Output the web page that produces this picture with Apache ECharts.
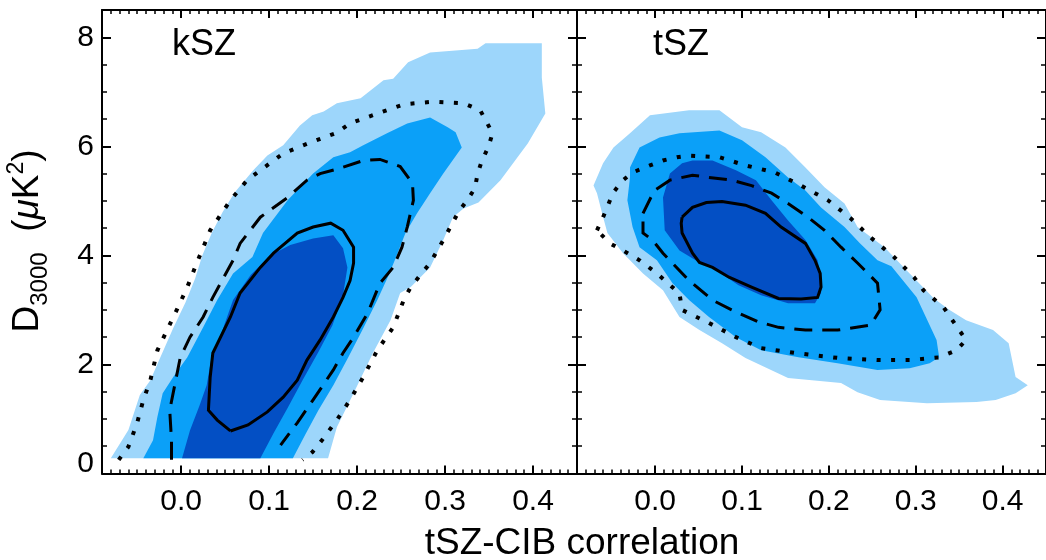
<!DOCTYPE html>
<html>
<head>
<meta charset="utf-8">
<script src="https://cdn.jsdelivr.net/npm/echarts@6/dist/echarts.min.js"></script>
<style>
html,body{margin:0;padding:0;background:#fff;}
#chart{width:1046px;height:560px;}
</style>
</head>
<body>
<div id="chart"></div>
<script>
// ---- axis ticks ----
const xMajorTicks = [0, 0.1, 0.2, 0.3, 0.4];
const xMinorTicks = [];
for (let i = -9; i <= 45; i++) xMinorTicks.push(i / 100);
const yMajorTicks = [0, 2, 4, 6, 8];
const yMinorTicks = [0, 0.5, 1, 1.5, 2, 2.5, 3, 3.5, 4, 4.5, 5, 5.5, 6, 6.5, 7, 7.5, 8, 8.5];
const panelNames = ['kSZ', 'tSZ'];

// ---- kSZ panel contours [tSZ-CIB correlation, D3000] ----
const kszLight = [[-0.080,0.28],[-0.060,0.80],[-0.047,1.44],[-0.035,1.71],[-0.024,2.12],[-0.009,2.67],[0.005,3.14],[0.016,3.58],[0.024,4.00],[0.035,4.42],[0.047,4.79],[0.061,5.16],[0.082,5.56],[0.098,5.83],[0.116,6.02],[0.135,6.38],[0.149,6.57],[0.162,6.64],[0.177,6.79],[0.204,6.88],[0.230,7.21],[0.241,7.24],[0.258,7.54],[0.283,7.72],[0.337,7.79],[0.346,7.89],[0.410,7.89],[0.410,7.26],[0.414,6.60],[0.394,6.05],[0.363,5.38],[0.338,4.97],[0.321,4.86],[0.309,4.70],[0.298,4.28],[0.283,3.78],[0.261,3.42],[0.249,3.31],[0.238,2.81],[0.218,2.21],[0.196,1.47],[0.177,0.85],[0.167,0.28]];
const kszMid = [[-0.043,0.28],[-0.032,0.61],[-0.027,1.04],[-0.021,1.47],[-0.009,1.77],[0.007,2.13],[0.025,2.68],[0.041,3.18],[0.059,3.67],[0.081,3.97],[0.093,4.41],[0.121,5.01],[0.150,5.50],[0.173,5.80],[0.192,5.89],[0.207,6.02],[0.234,6.24],[0.257,6.42],[0.283,6.53],[0.303,6.35],[0.312,6.26],[0.319,5.98],[0.298,5.50],[0.283,5.14],[0.268,4.77],[0.255,4.41],[0.245,4.00],[0.236,3.64],[0.223,3.18],[0.206,2.63],[0.190,2.13],[0.173,1.62],[0.156,1.16],[0.141,0.71],[0.127,0.28]];
const kszDark = [[0.001,0.28],[0.010,0.79],[0.021,1.25],[0.029,1.62],[0.034,2.08],[0.047,2.63],[0.059,3.18],[0.079,3.64],[0.101,4.00],[0.124,4.19],[0.150,4.31],[0.173,4.37],[0.184,4.13],[0.189,3.78],[0.184,3.27],[0.172,2.72],[0.156,2.23],[0.138,1.71],[0.121,1.20],[0.105,0.74],[0.090,0.28]];
const kszSolid = [[0.056,0.78],[0.076,0.89],[0.098,1.13],[0.116,1.40],[0.132,1.71],[0.143,2.08],[0.158,2.45],[0.173,2.87],[0.184,3.23],[0.192,3.54],[0.196,3.86],[0.196,4.15],[0.184,4.46],[0.170,4.59],[0.150,4.52],[0.132,4.41],[0.105,4.04],[0.090,3.78],[0.067,3.31],[0.056,2.87],[0.036,2.21],[0.033,1.77],[0.031,1.16],[0.041,0.98],[0.056,0.78]];
const kszDashed = [[-0.011,0.25],[-0.011,0.61],[-0.013,1.16],[-0.001,2.13],[0.010,2.50],[0.025,2.87],[0.036,3.23],[0.059,3.91],[0.067,4.22],[0.090,4.70],[0.121,5.06],[0.143,5.38],[0.158,5.50],[0.181,5.60],[0.207,5.74],[0.226,5.76],[0.249,5.63],[0.263,5.32],[0.264,5.01],[0.257,4.52],[0.251,4.15],[0.241,3.78],[0.226,3.49],[0.212,2.94],[0.196,2.50],[0.184,2.21],[0.173,1.90],[0.150,1.35],[0.132,0.93],[0.113,0.52]];
const kszDotted = [[-0.071,0.25],[-0.060,0.49],[-0.050,0.93],[-0.043,1.35],[-0.035,1.71],[-0.027,2.26],[-0.016,2.63],[-0.005,3.00],[0.007,3.42],[0.018,3.87],[0.033,4.46],[0.056,5.01],[0.075,5.38],[0.090,5.56],[0.116,5.87],[0.147,6.07],[0.177,6.25],[0.192,6.42],[0.223,6.60],[0.253,6.77],[0.287,6.82],[0.321,6.79],[0.340,6.66],[0.354,6.24],[0.349,5.98],[0.342,5.74],[0.337,5.50],[0.334,5.23],[0.325,5.01],[0.315,4.79],[0.306,4.52],[0.298,4.28],[0.283,3.86],[0.261,3.42],[0.253,3.18],[0.241,2.68],[0.223,2.26],[0.207,1.77],[0.192,1.35],[0.177,0.98],[0.160,0.61],[0.149,0.39],[0.138,0.25]];

// ---- tSZ panel contours ----
const tszLight = [[-0.071,5.28],[-0.060,5.69],[-0.048,5.98],[-0.029,6.24],[-0.006,6.57],[0.039,6.66],[0.074,6.66],[0.100,6.35],[0.122,6.26],[0.150,5.98],[0.173,5.61],[0.195,5.25],[0.218,4.95],[0.233,4.52],[0.264,4.15],[0.293,3.67],[0.321,3.21],[0.339,3.00],[0.358,2.81],[0.389,2.63],[0.407,2.39],[0.415,1.77],[0.429,1.62],[0.415,1.47],[0.392,1.35],[0.370,1.31],[0.313,1.29],[0.259,1.35],[0.233,1.49],[0.214,1.66],[0.153,1.75],[0.104,2.12],[0.077,2.39],[0.051,2.63],[0.028,2.87],[0.009,3.36],[-0.014,3.67],[-0.029,3.91],[-0.037,4.04],[-0.055,4.41],[-0.061,4.77],[-0.067,5.14]];
const tszMid = [[-0.029,5.61],[-0.018,5.98],[0.005,6.16],[0.028,6.24],[0.074,6.29],[0.100,6.11],[0.127,5.80],[0.153,5.43],[0.173,5.19],[0.191,4.88],[0.218,4.52],[0.236,4.22],[0.256,3.91],[0.272,3.80],[0.301,3.23],[0.324,2.45],[0.327,2.13],[0.316,2.02],[0.293,1.93],[0.256,1.90],[0.210,2.02],[0.165,2.13],[0.122,2.26],[0.093,2.50],[0.062,2.87],[0.039,3.18],[0.020,3.49],[0.002,3.91],[-0.018,4.15],[-0.026,4.52],[-0.032,5.01],[-0.029,5.43]];
const tszDark = [[0.009,5.06],[0.017,5.50],[0.031,5.69],[0.043,5.74],[0.066,5.74],[0.093,5.56],[0.116,5.38],[0.134,5.01],[0.153,4.64],[0.173,4.28],[0.187,3.91],[0.191,3.60],[0.191,3.31],[0.184,3.12],[0.153,3.12],[0.122,3.27],[0.096,3.45],[0.070,3.73],[0.051,3.87],[0.028,4.09],[0.011,4.46]];
const tszSolid = [[0.031,4.70],[0.043,4.88],[0.059,4.97],[0.077,4.99],[0.104,4.92],[0.127,4.77],[0.145,4.52],[0.173,4.22],[0.184,3.91],[0.190,3.67],[0.191,3.42],[0.187,3.23],[0.168,3.20],[0.142,3.21],[0.111,3.42],[0.085,3.60],[0.066,3.78],[0.051,3.87],[0.043,4.04],[0.031,4.41],[0.030,4.59],[0.031,4.70]];
const tszDashed = [[-0.014,4.77],[-0.001,5.19],[0.017,5.38],[0.043,5.47],[0.062,5.43],[0.088,5.38],[0.111,5.28],[0.134,5.14],[0.153,4.95],[0.176,4.70],[0.195,4.46],[0.214,4.15],[0.233,3.86],[0.245,3.67],[0.256,3.49],[0.259,3.00],[0.248,2.72],[0.210,2.63],[0.173,2.63],[0.142,2.68],[0.119,2.78],[0.088,3.00],[0.066,3.18],[0.039,3.54],[0.009,4.04],[-0.003,4.28],[-0.014,4.41],[-0.014,4.77]];
const tszDotted = [[-0.067,4.46],[-0.060,4.70],[-0.052,5.01],[-0.048,5.16],[-0.037,5.38],[-0.026,5.52],[-0.006,5.65],[0.009,5.74],[0.025,5.80],[0.039,5.83],[0.074,5.80],[0.104,5.65],[0.138,5.52],[0.168,5.28],[0.199,5.01],[0.225,4.68],[0.248,4.33],[0.275,3.97],[0.298,3.60],[0.309,3.36],[0.332,3.05],[0.350,2.63],[0.358,2.45],[0.347,2.26],[0.327,2.13],[0.293,2.08],[0.256,2.08],[0.210,2.12],[0.161,2.21],[0.122,2.30],[0.093,2.50],[0.062,2.76],[0.031,3.00],[0.028,3.30],[0.002,3.67],[-0.018,3.91],[-0.037,4.09],[-0.052,4.22],[-0.067,4.46]];

const FONT = "'Liberation Sans', Arial, Helvetica, sans-serif";
const C_LIGHT = '#9dd6fb', C_MID = '#0ba0f8', C_DARK = '#034fc4';

const chart = echarts.init(document.getElementById('chart'), null, {renderer: 'canvas'});

const grids = [
  {left: 102, top: 10, width: 475, height: 463.5},
  {left: 577, top: 10, width: 475, height: 463.5}
];

const xAxes = [], yAxes = [];
const lineBlack = {color: '#000', width: 2};
for (let g = 0; g < 2; g++) {
  const xBase = {gridIndex: g, type: 'value', min: -0.09, max: 0.45, splitLine: {show: false}};
  xAxes.push(Object.assign({}, xBase, {position: 'bottom', axisLine: {show: true, onZero: false, lineStyle: lineBlack},
    axisTick: {show: true, inside: true, length: 8, customValues: xMajorTicks, lineStyle: {color: '#000', width: 2}},
    axisLabel: {show: true, customValues: xMajorTicks, formatter: v => v.toFixed(1), fontSize: 30, fontFamily: FONT, color: '#000', margin: 13}}));
  xAxes.push(Object.assign({}, xBase, {position: 'bottom', axisLine: {show: false, onZero: false},
    axisTick: {show: true, inside: true, length: 4, customValues: xMinorTicks, lineStyle: {color: '#000', width: 1.5}},
    axisLabel: {show: false}}));
  xAxes.push(Object.assign({}, xBase, {position: 'top', axisLine: {show: true, onZero: false, lineStyle: lineBlack},
    axisTick: {show: true, inside: true, length: 8, customValues: xMajorTicks, lineStyle: {color: '#000', width: 2}},
    axisLabel: {show: false}}));
  xAxes.push(Object.assign({}, xBase, {position: 'top', axisLine: {show: false, onZero: false},
    axisTick: {show: true, inside: true, length: 4, customValues: xMinorTicks, lineStyle: {color: '#000', width: 1.5}},
    axisLabel: {show: false}}));

  const yBase = {gridIndex: g, type: 'value', min: 0, max: 8.5, splitLine: {show: false}};
  yAxes.push(Object.assign({}, yBase, {position: 'left', axisLine: {show: true, onZero: false, lineStyle: lineBlack},
    axisTick: {show: true, inside: true, length: 9, customValues: yMajorTicks, lineStyle: {color: '#000', width: 2}},
    axisLabel: {show: g === 0, customValues: yMajorTicks, fontSize: 30, fontFamily: FONT, color: '#000', margin: 8,
      formatter: v => (v === 0 ? '{z|0}' : String(v)),
      rich: {z: {fontSize: 30, fontFamily: FONT, color: '#000', padding: [0, 0, 20, 0]}}}}));
  yAxes.push(Object.assign({}, yBase, {position: 'left', axisLine: {show: false, onZero: false},
    axisTick: {show: true, inside: true, length: 5, customValues: yMinorTicks, lineStyle: {color: '#000', width: 1.5}},
    axisLabel: {show: false}}));
  yAxes.push(Object.assign({}, yBase, {position: 'right', axisLine: {show: true, onZero: false, lineStyle: lineBlack},
    axisTick: {show: true, inside: true, length: 9, customValues: yMajorTicks, lineStyle: {color: '#000', width: 2}},
    axisLabel: {show: false}}));
  yAxes.push(Object.assign({}, yBase, {position: 'right', axisLine: {show: false, onZero: false},
    axisTick: {show: true, inside: true, length: 5, customValues: yMinorTicks, lineStyle: {color: '#000', width: 1.5}},
    axisLabel: {show: false}}));
}

function fillSeries(points, color, g, z) {
  return {
    type: 'custom', xAxisIndex: g * 4, yAxisIndex: g * 4, coordinateSystem: 'cartesian2d',
    data: [[points[0][0], points[0][1]]], silent: true, clip: true, z: z,
    renderItem: function (params, api) {
      return {type: 'polygon', shape: {points: points.map(p => api.coord(p))}, style: {fill: color, stroke: null}};
    }
  };
}
function lineSeries(points, type, width, g) {
  return {
    type: 'line', xAxisIndex: g * 4, yAxisIndex: g * 4, data: points, showSymbol: false, symbol: 'none',
    silent: true, clip: true, z: 10, animation: false,
    lineStyle: {color: '#000', width: width, type: type, cap: 'butt', join: 'miter'}
  };
}

const DASH = [18, 10], DOT = [4, 10.5];
const series = [
  fillSeries(kszLight, C_LIGHT, 0, 1), fillSeries(kszMid, C_MID, 0, 2), fillSeries(kszDark, C_DARK, 0, 3),
  fillSeries(tszLight, C_LIGHT, 1, 1), fillSeries(tszMid, C_MID, 1, 2), fillSeries(tszDark, C_DARK, 1, 3),
  lineSeries(kszSolid, 'solid', 3, 0), lineSeries(kszDashed, DASH, 3, 0), lineSeries(kszDotted, DOT, 4, 0),
  lineSeries(tszSolid, 'solid', 3, 1), lineSeries(tszDashed, DASH, 3, 1), lineSeries(tszDotted, DOT, 4, 1)
];

const option = {
  animation: false,
  backgroundColor: '#fff',
  grid: grids,
  xAxis: xAxes,
  yAxis: yAxes,
  series: series,
  graphic: [
    {type: 'text', x: 172, y: 45, z: 20, style: {text: panelNames[0], font: '36px ' + FONT, fill: '#000', align: 'left', verticalAlign: 'middle'}},
    {type: 'text', x: 653, y: 45, z: 20, style: {text: panelNames[1], font: '36px ' + FONT, fill: '#000', align: 'left', verticalAlign: 'middle'}},
    {type: 'text', x: 582, y: 544, z: 20, style: {text: 'tSZ-CIB correlation', font: '37px ' + FONT, fill: '#000', align: 'center', verticalAlign: 'middle'}},
    {type: 'text', x: 30, y: 241, rotation: Math.PI / 2, z: 20, style: {
      text: '{b|D}{s|3000}{b|  (}{m|μ}{b|K}{p|2}{b|)}',
      align: 'center', verticalAlign: 'middle', fill: '#000',
      rich: {
        b: {fontSize: 37, fontFamily: FONT, fill: '#000', verticalAlign: 'bottom', padding: [0, 0, 6, 0], lineHeight: 44},
        m: {fontSize: 37, fontFamily: FONT, fontStyle: 'italic', fill: '#000', verticalAlign: 'bottom', padding: [0, 0, 6, 0], lineHeight: 44},
        s: {fontSize: 24, fontFamily: FONT, fill: '#000', verticalAlign: 'bottom', padding: [0, 0, 0, 0], lineHeight: 44},
        p: {fontSize: 23, fontFamily: FONT, fill: '#000', verticalAlign: 'bottom', padding: [0, 0, 24, 0], lineHeight: 44}
      }
    }}
  ]
};
chart.setOption(option);
</script>
</body>
</html>
